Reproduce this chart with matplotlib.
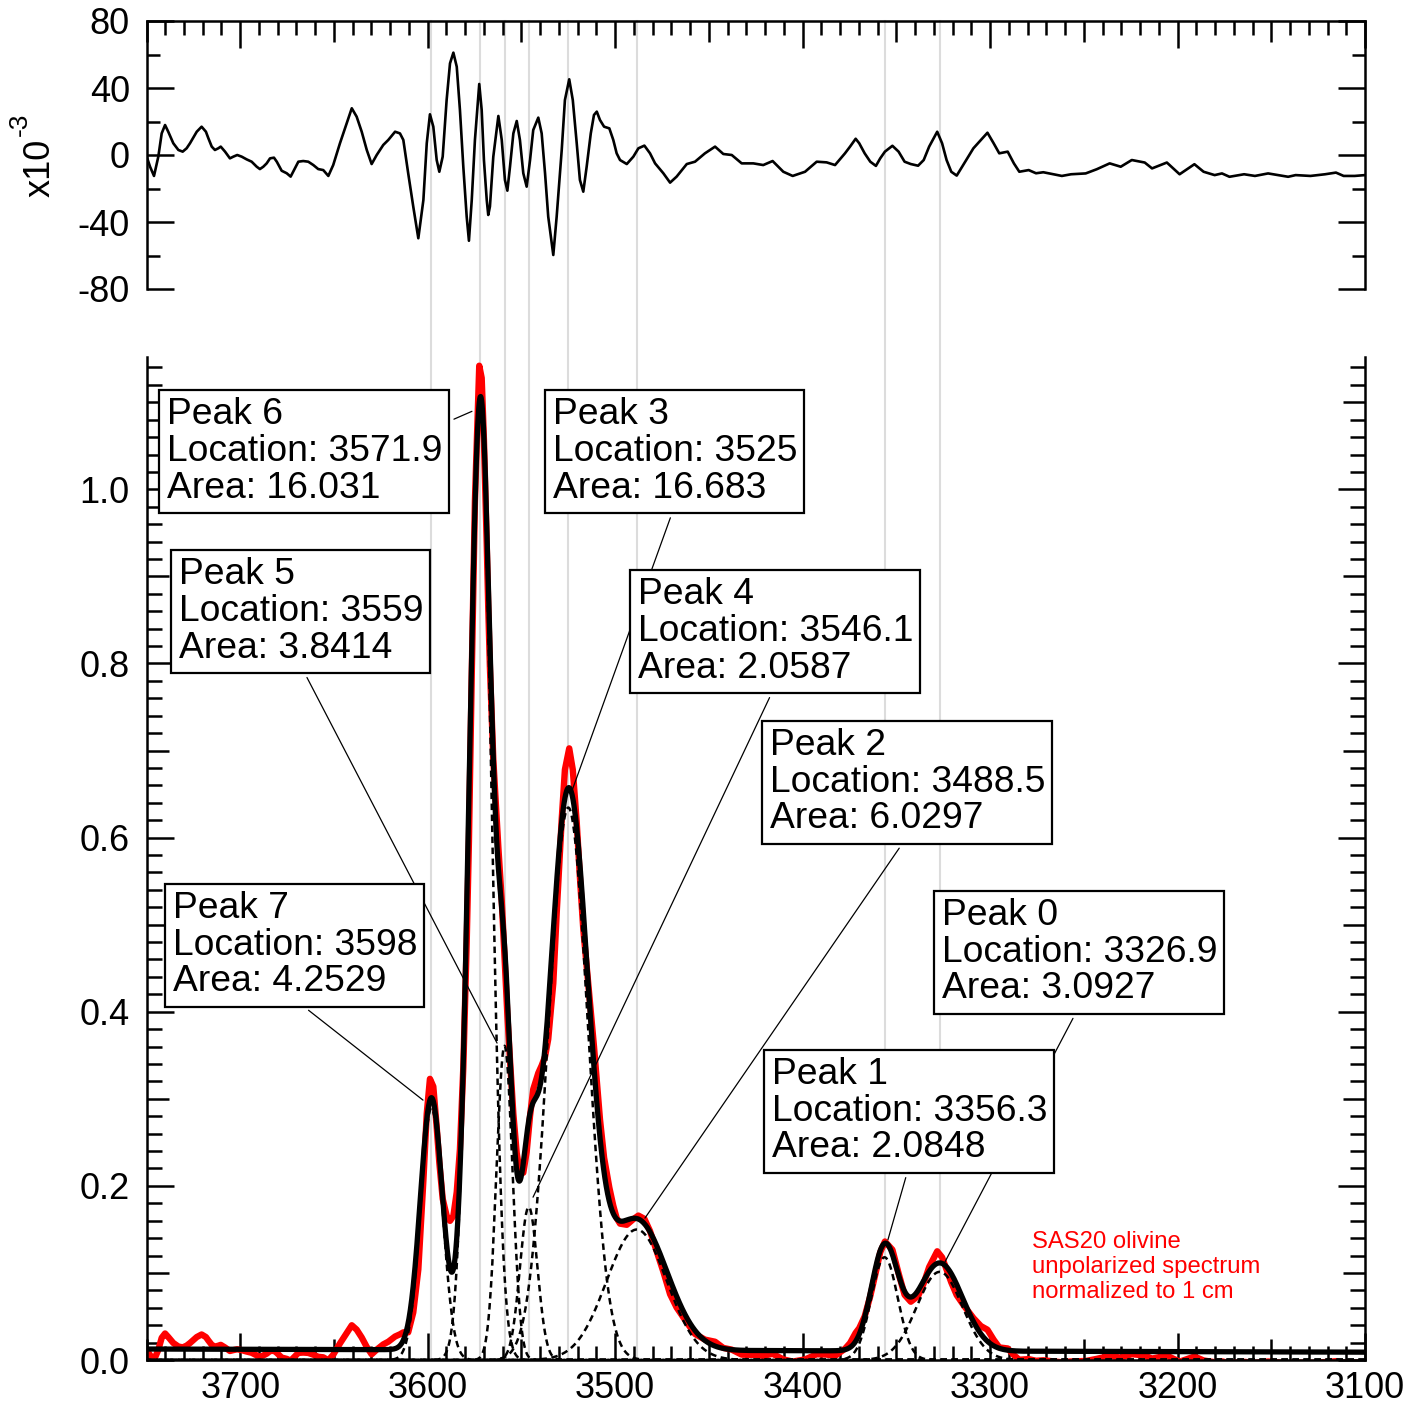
import numpy as np
import matplotlib
matplotlib.use('Agg')
import matplotlib.pyplot as plt
from matplotlib.ticker import MultipleLocator, FuncFormatter
from matplotlib import transforms
from matplotlib.lines import Line2D

plt.rcParams['font.family'] = ['Liberation Sans', 'DejaVu Sans']
plt.rcParams['axes.unicode_minus'] = False

# ---------------- data ----------------
peak_names = ['Peak 0', 'Peak 1', 'Peak 2', 'Peak 3', 'Peak 4', 'Peak 5', 'Peak 6', 'Peak 7']
peak_loc = [3326.9, 3356.3, 3488.5, 3525.0, 3546.1, 3559.0, 3571.9, 3598.0]
peak_area = [3.0927, 2.0848, 6.0297, 16.683, 2.0587, 3.8414, 16.031, 4.2529]
peak_fwhm = [28.7, 16.6, 37.8, 24.7, 11.0, 10.0, 13.8, 13.8]   # estimated widths
baseline_wn = [3750, 3100]
baseline_val = [0.0126, 0.0090]

# residual (data - fit), units of 1e-3
resid_wn = [3749.9, 3748.1, 3746.0, 3743.7, 3741.9, 3740.1, 3738.4, 3735.7, 3733.0, 3730.7,
            3728.6, 3726.8, 3723.2, 3720.6, 3718.3, 3717.0, 3715.2, 3713.5, 3711.7, 3710.4,
            3708.1, 3705.5, 3703.7, 3701.6, 3699.2, 3696.6, 3693.9, 3691.2, 3689.5, 3687.7,
            3685.9, 3684.1, 3682.0, 3680.5, 3677.9, 3675.2, 3673.1, 3671.3, 3669.0, 3666.4,
            3663.7, 3661.0, 3658.4, 3655.7, 3653.0, 3650.4, 3646.8, 3643.2, 3640.5, 3637.9,
            3635.2, 3632.5, 3629.9, 3627.2, 3623.7, 3621.0, 3617.4, 3614.8, 3613.0, 3610.4,
            3607.7, 3605.0, 3602.3, 3600.5, 3598.8, 3597.0, 3595.2, 3593.8, 3592.0, 3589.9,
            3588.1, 3586.3, 3584.5, 3582.8, 3581.0, 3579.2, 3578.0, 3576.5, 3574.8, 3572.5,
            3571.2, 3570.0, 3568.5, 3567.7, 3566.8, 3565.0, 3562.3, 3560.5, 3558.8, 3557.5,
            3556.1, 3554.3, 3552.5, 3550.8, 3549.0, 3547.2, 3545.4, 3543.7, 3541.0, 3539.2,
            3537.4, 3535.7, 3533.0, 3531.2, 3528.5, 3526.8, 3524.5, 3522.6, 3520.5, 3518.8,
            3517.0, 3515.2, 3513.0, 3511.3, 3509.8, 3508.1, 3505.9, 3503.1, 3501.0, 3499.2,
            3497.4, 3493.8, 3490.3, 3487.6, 3484.4, 3481.4, 3478.7, 3474.3, 3470.7, 3467.2,
            3461.8, 3457.4, 3452.1, 3446.7, 3442.3, 3437.8, 3432.5, 3426.3, 3421.0, 3416.0,
            3410.3, 3405.3, 3398.7, 3392.5, 3387.2, 3382.7, 3377.4, 3374.7, 3371.7, 3369.8,
            3366.9, 3363.9, 3360.9, 3358.6, 3356.1, 3352.1, 3348.8, 3345.6, 3342.3, 3338.4,
            3335.4, 3332.5, 3328.2, 3325.6, 3323.2, 3320.7, 3317.8, 3313.8, 3308.9, 3304.9,
            3301.4, 3298.1, 3295.1, 3290.6, 3287.3, 3284.4, 3279.4, 3275.5, 3271.6, 3261.7,
            3256.8, 3249.0, 3243.1, 3236.2, 3230.3, 3224.4, 3217.5, 3213.6, 3205.7, 3198.9,
            3191.0, 3186.1, 3180.2, 3176.3, 3172.3, 3164.5, 3158.7, 3151.7, 3141.0, 3137.0,
            3129.1, 3121.3, 3115.5, 3111.4, 3105.5, 3100.0]
resid_val = [-1.0, -7.0, -12.5, -1.0, 12.9, 17.9, 13.9, 7.0, 3.0, 2.0,
             4.0, 7.0, 13.9, 16.9, 13.9, 10.0, 5.0, 3.0, 4.0, 5.0,
             2.0, -2.0, -1.0, 0.0, -1.0, -2.6, -4.0, -7.0, -8.4, -7.0,
             -5.0, -2.0, -1.6, -4.0, -9.4, -10.9, -12.9, -9.0, -4.0, -3.6,
             -4.0, -6.0, -8.4, -9.0, -12.5, -6.0, 7.0, 18.9, 27.9, 22.9,
             13.9, 3.0, -5.4, 0.0, 6.0, 9.0, 13.9, 12.9, 9.0, -10.9,
             -30.8, -49.7, -26.9, 7.0, 24.3, 16.9, -3.0, -10.0, -1.0, 32.8,
             54.7, 61.1, 52.7, 26.9, -7.0, -36.8, -51.2, -26.9, 9.0, 42.4,
             26.9, -3.0, -26.9, -35.8, -30.8, -1.0, 23.3, 9.0, -14.9, -21.3,
             -7.0, 12.9, 20.3, 9.0, -10.9, -18.9, -3.0, 14.9, 22.3, 12.9,
             -10.9, -36.8, -59.7, -36.8, 3.0, 32.8, 45.2, 32.8, 7.0, -14.9,
             -21.9, -7.0, 12.9, 23.9, 25.9, 20.9, 16.9, 15.9, 9.0, 1.0,
             -3.0, -5.4, -1.0, 4.0, 5.6, 1.0, -5.0, -10.9, -16.5, -12.9,
             -5.4, -4.0, 1.0, 5.0, 0.6, 0.0, -5.0, -5.0, -6.0, -3.6,
             -10.0, -12.5, -10.0, -4.0, -4.4, -6.0, 1.0, 5.0, 9.7, 7.0,
             1.0, -4.0, -6.5, -2.0, 2.0, 5.5, 2.0, -4.0, -5.4, -6.4,
             -3.0, 5.0, 13.9, 7.0, -3.0, -10.0, -12.3, -5.0, 4.0, 9.0,
             13.3, 7.0, 1.0, 2.0, -5.0, -10.0, -9.0, -10.9, -10.3, -12.5,
             -11.5, -11.0, -8.5, -5.0, -7.0, -3.0, -4.5, -8.0, -4.5, -11.5,
             -5.5, -10.0, -12.0, -11.0, -13.0, -11.5, -12.5, -11.0, -13.0, -12.0,
             -12.5, -11.5, -10.5, -12.5, -12.5, -12.0]

x_ticks_major = [3700, 3600, 3500, 3400, 3300, 3200, 3100]
legend_text = 'SAS20 olivine\nunpolarized spectrum\nnormalized to 1 cm'


# ---------------- model ----------------
def component(x, loc, area, fwhm):
    s = fwhm / (2 * np.sqrt(2 * np.log(2)))
    return area / (s * np.sqrt(2 * np.pi)) * np.exp(-0.5 * ((x - loc) / s) ** 2)


def baseline(x):
    return np.interp(x, baseline_wn[::-1], baseline_val[::-1])


def model(x):
    y = baseline(x)
    for l, a, w in zip(peak_loc, peak_area, peak_fwhm):
        y = y + component(x, l, a, w)
    return y


xg = np.arange(3100, 3750.01, 0.25)
rw = np.array(resid_wn)
rv = np.array(resid_val)
red_y = model(rw) + rv * 1e-3      # measured spectrum = fit + residual

# ---------------- figure ----------------
W, H = 1425, 1413
fig = plt.figure(figsize=(W / 100, H / 100), dpi=100)


def px_axes(l, t, r, b):
    return fig.add_axes([l / W, 1 - b / H, (r - l) / W, (b - t) / H])


ax_top = px_axes(146.5, 21, 1365, 289)
ax_bot = px_axes(146.5, 357, 1365, 1360)
for ax in (ax_top, ax_bot):
    ax.set_facecolor('none')
    ax.set_xlim(3750, 3100)
    for s in ax.spines.values():
        s.set_linewidth(1.8)
    ax.xaxis.set_major_locator(MultipleLocator(50))
    ax.xaxis.set_minor_locator(MultipleLocator(10))
    ax.tick_params(which='both', direction='in', width=1.8, left=True, right=True,
                   labelsize=26)
    ax.tick_params(which='major', length=19.4)
    ax.tick_params(which='minor', length=10)
    ax.tick_params(axis='y', pad=12)

# top panel (residual)
ax_top.set_ylim(-80, 80)
ax_top.spines['bottom'].set_visible(False)
ax_top.tick_params(axis='x', which='both', top=True, bottom=False, labelbottom=False,
                   labeltop=False)
ax_top.yaxis.set_major_locator(MultipleLocator(40))
ax_top.yaxis.set_minor_locator(MultipleLocator(20))
ax_top.tick_params(axis='y', which='minor', length=9.4)
ax_top.yaxis.set_major_formatter(FuncFormatter(lambda v, p: f'{v:.0f}'))
ax_top.plot(rw, rv, color='black', lw=1.9, zorder=3, solid_joinstyle='round')
fig.text(40 / W, 1 - 168 / H, 'x10', rotation=90, ha='center', va='center', fontsize=26)
fig.text(20 / W, 1 - 124 / H, '-3', rotation=90, ha='center', va='center', fontsize=19)

# bottom panel (spectrum + fit)
ax_bot.set_ylim(0, 1.152)
ax_bot.spines['top'].set_visible(False)
ax_bot.tick_params(axis='x', which='both', top=False, bottom=True, pad=8)
ax_bot.xaxis.set_major_formatter(FuncFormatter(
    lambda v, p: f'{v:.0f}' if int(round(v)) in x_ticks_major else ''))
ax_bot.yaxis.set_major_locator(MultipleLocator(0.1))
ax_bot.yaxis.set_minor_locator(MultipleLocator(0.02))
ax_bot.tick_params(axis='y', which='minor', length=10.8)
ax_bot.yaxis.set_major_formatter(FuncFormatter(
    lambda v, p: f'{v:.1f}' if int(round(v * 10)) % 2 == 0 else ''))

ax_bot.plot(rw, red_y, color='#ff0000', lw=4.6, zorder=2, solid_joinstyle='round')
for l, a, w in zip(peak_loc, peak_area, peak_fwhm):
    ax_bot.plot(xg, component(xg, l, a, w), color='black', lw=1.8,
                linestyle=(0, (2.6, 1.8)), zorder=3)
ax_bot.plot(xg, model(xg), color='black', lw=3.8, zorder=4)

# grey location lines through both panels
blend = transforms.blended_transform_factory(ax_bot.transData, fig.transFigure)
for l in peak_loc:
    fig.add_artist(Line2D([l, l], [1 - 1360 / H, 1 - 21 / H], transform=blend,
                          color='#dcdcdc', lw=1.5, zorder=-1))


def px2data(px, py):
    return 3750 - (px - 146.5) / 1.8746, (1360 - py) / 871.0


# (peak index, text anchor px left/top, leader end (wn, y), leader relpos)
ann = [
    (5, (178.5, 557), (3563.0, 0.364), (0.5, 0)),
    (3, (552.5, 397), (3523.0, 0.654), (0.5, 0)),
    (0, (941.5, 898), (3324.1, 0.1125), (0.5, 0)),
    (6, (166.5, 397), (3576.4, 1.0896), (1, 0.75)),
    (7, (172.5, 891), (3602.5, 0.2985), (0.5, 0)),
    (4, (637.5, 577), (3543.8, 0.187), (0.5, 0)),
    (2, (769.5, 728), (3484.1, 0.163), (0.5, 0)),
    (1, (771.5, 1057), (3354.5, 0.138), (0.5, 0)),
]
for i, (tx, ty), end, rp in ann:
    txt = f'{peak_names[i]}\nLocation: {peak_loc[i]:g}\nArea: {peak_area[i]:g}'
    ax_bot.annotate(txt, xy=end, xycoords='data', xytext=px2data(tx, ty), textcoords='data',
                    ha='left', va='top', fontsize=26.8, linespacing=1.06, zorder=6,
                    bbox=dict(boxstyle='square,pad=0.2', fc='white', ec='black', lw=1.6),
                    arrowprops=dict(arrowstyle='-', lw=0.9, color='black', shrinkA=3,
                                    shrinkB=0, relpos=rp))

ax_bot.text((1032 - 146.5) / 1218.5, (1360 - 1267) / 1003.0, legend_text, color='#ff0000',
            fontsize=17.2, transform=ax_bot.transAxes, ha='left', va='center',
            linespacing=1.15, zorder=6)

# three tick lengths on x (100 / 50 / 10) and on bottom y (0.2 / 0.1 / 0.02)
fig.canvas.draw()
for ax in (ax_top, ax_bot):
    for t in ax.xaxis.get_major_ticks():
        if int(round(t.get_loc())) % 100 != 0:
            t.tick1line.set_markersize(15)
            t.tick2line.set_markersize(15)
for t in ax_bot.yaxis.get_major_ticks():
    if int(round(t.get_loc() * 10)) % 2 != 0:
        t.tick1line.set_markersize(15.8)
        t.tick2line.set_markersize(15.8)

fig.savefig('out.png', dpi=100)
